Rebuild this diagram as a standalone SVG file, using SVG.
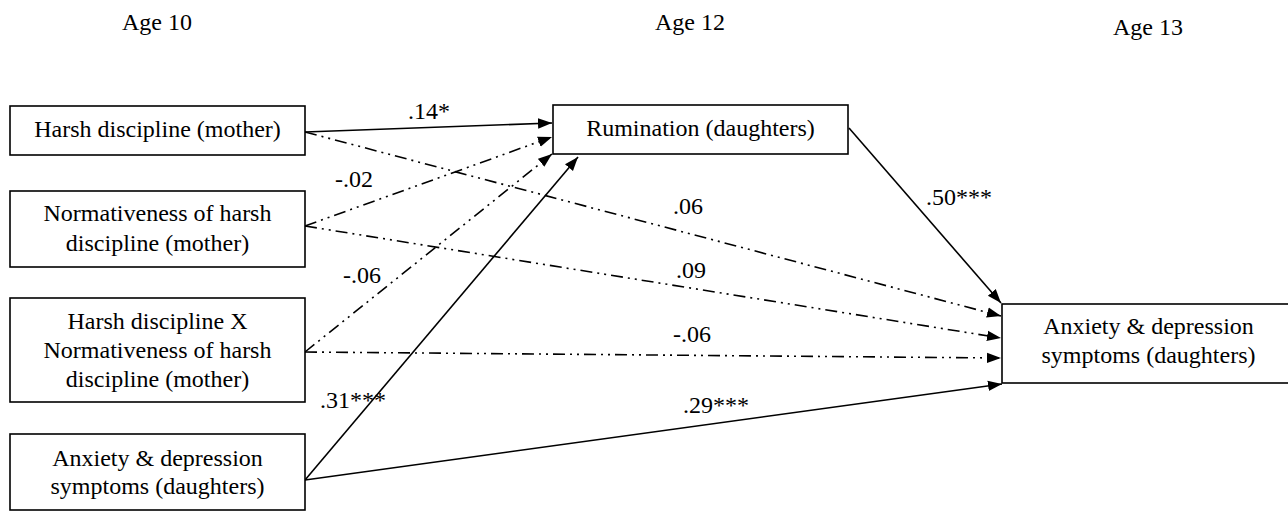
<svg xmlns="http://www.w3.org/2000/svg" width="1288" height="512" viewBox="0 0 1288 512">
<style>
text { font-family: "Liberation Serif", "Times New Roman", serif; font-size: 24px; fill: #000; }
.c { text-anchor: middle; }
.box { fill: #fff; stroke: #000; stroke-width: 1.6; }
.solid { fill: none; stroke: #000; stroke-width: 1.6; }
.dd { fill: none; stroke: #000; stroke-width: 1.6; stroke-dasharray: 12 5 2 5 2 5; }
</style>
<defs>
<marker id="arr" markerUnits="userSpaceOnUse" markerWidth="16" markerHeight="12" refX="14" refY="6" orient="auto">
<path d="M0,0.8 L14,6 L0,11.2 z" fill="#000"/>
</marker>
</defs>
<rect width="1288" height="512" fill="#fff"/>
<g id="age-labels">
<text class="c" x="157" y="30">Age 10</text>
<text class="c" x="690" y="30">Age 12</text>
<text class="c" x="1148" y="35">Age 13</text>
</g>
<g id="connectors">
<line class="solid" x1="305" y1="132" x2="552" y2="123" marker-end="url(#arr)"/>
<line class="dd" x1="305" y1="132" x2="1001" y2="316" marker-end="url(#arr)"/>
<line class="dd" x1="305" y1="226" x2="552" y2="137" marker-end="url(#arr)"/>
<line class="dd" x1="305" y1="226" x2="1001" y2="338" marker-end="url(#arr)"/>
<line class="dd" x1="305" y1="352" x2="552" y2="154" marker-end="url(#arr)"/>
<line class="dd" x1="305" y1="352" x2="1001" y2="358" marker-end="url(#arr)"/>
<line class="solid" x1="305" y1="480" x2="578" y2="157" marker-end="url(#arr)"/>
<line class="solid" x1="305" y1="480" x2="1002" y2="384" marker-end="url(#arr)"/>
<line class="solid" x1="849" y1="128" x2="1001" y2="303" marker-end="url(#arr)"/>
<text x="408" y="119">.14*</text>
<text x="688" y="214" class="c">.06</text>
<text x="335" y="187">-.02</text>
<text x="691" y="278" class="c">.09</text>
<text x="343" y="283">-.06</text>
<text x="692" y="342" class="c">-.06</text>
<text x="320" y="408">.31***</text>
<text x="683" y="413">.29***</text>
<text x="926" y="205">.50***</text>
</g>
<g id="n1">
<rect class="box" x="10" y="106" width="295" height="49"/>
<text class="c" x="157.5" y="137">Harsh discipline (mother)</text>
</g>
<g id="n2">
<rect class="box" x="10" y="191" width="295" height="76"/>
<text class="c" x="157.5" y="221">Normativeness of harsh</text>
<text class="c" x="157.5" y="251">discipline (mother)</text>
</g>
<g id="n3">
<rect class="box" x="10" y="298" width="295" height="104"/>
<text class="c" x="157.5" y="329">Harsh discipline X</text>
<text class="c" x="157.5" y="358">Normativeness of harsh</text>
<text class="c" x="157.5" y="387">discipline (mother)</text>
</g>
<g id="n4">
<rect class="box" x="10" y="434" width="295" height="76"/>
<text class="c" x="157.5" y="466">Anxiety &amp; depression</text>
<text class="c" x="157.5" y="494">symptoms (daughters)</text>
</g>
<g id="n5">
<rect class="box" x="553" y="105" width="295" height="49"/>
<text class="c" x="700.5" y="136">Rumination (daughters)</text>
</g>
<g id="n6">
<rect class="box" x="1002" y="304" width="295" height="79"/>
<text class="c" x="1148.5" y="334">Anxiety &amp; depression</text>
<text class="c" x="1148.5" y="363">symptoms (daughters)</text>
</g>
</svg>
